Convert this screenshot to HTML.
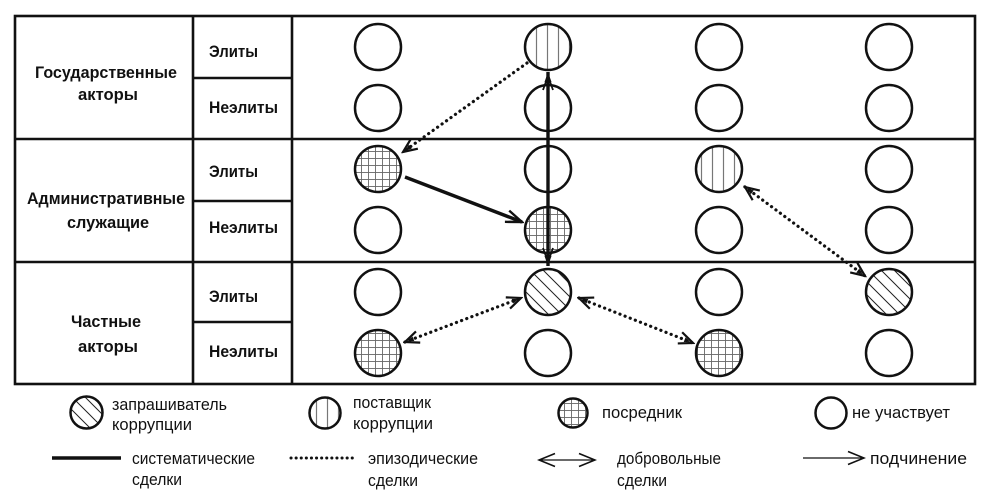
<!DOCTYPE html>
<html><head><meta charset="utf-8"><style>
html,body{margin:0;padding:0;background:#fff;}
svg{display:block;}
.b{font-family:"Liberation Sans Narrow","Liberation Sans","DejaVu Sans",sans-serif;font-weight:bold;font-size:17px;fill:#111;}
.r{font-family:"Liberation Sans Narrow","Liberation Sans","DejaVu Sans",sans-serif;font-size:16.5px;fill:#111;}
</style></head><body>
<svg width="1000" height="501" viewBox="0 0 1000 501" xmlns="http://www.w3.org/2000/svg">
<defs>
<pattern id="pv" patternUnits="userSpaceOnUse" width="11" height="10" x="3" y="0">
<line x1="5.5" y1="0" x2="5.5" y2="10" stroke="#777" stroke-width="1.2"/>
</pattern>
<pattern id="pg" patternUnits="userSpaceOnUse" width="7" height="7" x="1" y="1">
<line x1="3.5" y1="0" x2="3.5" y2="7" stroke="#666" stroke-width="0.9"/>
<line x1="0" y1="3.5" x2="7" y2="3.5" stroke="#666" stroke-width="0.9"/>
</pattern>
<pattern id="pd" patternUnits="userSpaceOnUse" width="13" height="13" x="0" y="0">
<path d="M-2,-2 L15,15 M-8.5,4.5 L4.5,17.5 M4.5,-8.5 L17.5,4.5" stroke="#222" stroke-width="1" fill="none"/>
</pattern>
<marker id="mo" markerUnits="userSpaceOnUse" viewBox="-16 -8 18 16" refX="0" refY="0" markerWidth="18" markerHeight="16" orient="auto-start-reverse">
<path d="M-14,-6 L0,0 L-14,6" fill="none" stroke="#111" stroke-width="2.2"/>
<path d="M-9,-2.5 L-3,0 L-9,2.5 Z" fill="#111"/>
</marker>
<marker id="ms" markerUnits="userSpaceOnUse" viewBox="-18 -9 20 18" refX="0" refY="0" markerWidth="20" markerHeight="18" orient="auto-start-reverse">
<path d="M-16,-6 L0,0 L-16,6" fill="none" stroke="#111" stroke-width="2.4"/>
</marker>
<marker id="mv" markerUnits="userSpaceOnUse" viewBox="-20 -9 22 18" refX="0" refY="0" markerWidth="22" markerHeight="18" orient="auto-start-reverse">
<path d="M-10,-3.5 L0,0 L-10,3.5 Z" fill="#111"/>
<path d="M-18,-5 L-4,0 L-18,5" fill="none" stroke="#111" stroke-width="1.8"/>
</marker>
<marker id="mt" markerUnits="userSpaceOnUse" viewBox="-18 -9 20 18" refX="0" refY="0" markerWidth="20" markerHeight="18" orient="auto-start-reverse">
<path d="M-16,-6.5 L0,0 L-16,6.5" fill="none" stroke="#111" stroke-width="1.6"/>
</marker>
</defs>

<!-- table frame -->
<g stroke="#111" stroke-width="2.6" fill="none">
<rect x="15" y="16" width="960" height="368"/>
<line x1="193" y1="16" x2="193" y2="384"/>
<line x1="292" y1="16" x2="292" y2="384"/>
<line x1="15" y1="139" x2="975" y2="139"/>
<line x1="15" y1="262" x2="975" y2="262"/>
<line x1="193" y1="78" x2="292" y2="78"/>
<line x1="193" y1="201" x2="292" y2="201"/>
<line x1="193" y1="322" x2="292" y2="322"/>
</g>

<!-- labels -->
<text class="b" x="106" y="78" text-anchor="middle" textLength="142" lengthAdjust="spacingAndGlyphs">Государственные</text>
<text class="b" x="108" y="100" text-anchor="middle" textLength="60" lengthAdjust="spacingAndGlyphs">акторы</text>
<text class="b" x="106" y="204" text-anchor="middle" textLength="158" lengthAdjust="spacingAndGlyphs">Административные</text>
<text class="b" x="108" y="228" text-anchor="middle" textLength="82" lengthAdjust="spacingAndGlyphs">служащие</text>
<text class="b" x="106" y="327" text-anchor="middle" textLength="70" lengthAdjust="spacingAndGlyphs">Частные</text>
<text class="b" x="108" y="352" text-anchor="middle" textLength="60" lengthAdjust="spacingAndGlyphs">акторы</text>

<text class="b" x="209" y="57" textLength="49" lengthAdjust="spacingAndGlyphs">Элиты</text>
<text class="b" x="209" y="113" textLength="69" lengthAdjust="spacingAndGlyphs">Неэлиты</text>
<text class="b" x="209" y="177" textLength="49" lengthAdjust="spacingAndGlyphs">Элиты</text>
<text class="b" x="209" y="233" textLength="69" lengthAdjust="spacingAndGlyphs">Неэлиты</text>
<text class="b" x="209" y="302" textLength="49" lengthAdjust="spacingAndGlyphs">Элиты</text>
<text class="b" x="209" y="357" textLength="69" lengthAdjust="spacingAndGlyphs">Неэлиты</text>

<!-- circles -->
<g stroke="#111" stroke-width="2.5">
<circle cx="378" cy="47" r="23" fill="#fff"/>
<circle cx="548" cy="47" r="23" fill="url(#pv)"/>
<circle cx="719" cy="47" r="23" fill="#fff"/>
<circle cx="889" cy="47" r="23" fill="#fff"/>

<circle cx="378" cy="108" r="23" fill="#fff"/>
<circle cx="548" cy="108" r="23" fill="#fff"/>
<circle cx="719" cy="108" r="23" fill="#fff"/>
<circle cx="889" cy="108" r="23" fill="#fff"/>

<circle cx="378" cy="169" r="23" fill="url(#pg)"/>
<circle cx="548" cy="169" r="23" fill="#fff"/>
<circle cx="719" cy="169" r="23" fill="url(#pv)"/>
<circle cx="889" cy="169" r="23" fill="#fff"/>

<circle cx="378" cy="230" r="23" fill="#fff"/>
<circle cx="548" cy="230" r="23" fill="url(#pg)"/>
<circle cx="719" cy="230" r="23" fill="#fff"/>
<circle cx="889" cy="230" r="23" fill="#fff"/>

<circle cx="378" cy="292" r="23" fill="#fff"/>
<circle cx="548" cy="292" r="23" fill="url(#pd)"/>
<circle cx="719" cy="292" r="23" fill="#fff"/>
<circle cx="889" cy="292" r="23" fill="url(#pd)"/>

<circle cx="378" cy="353" r="23" fill="url(#pg)"/>
<circle cx="548" cy="353" r="23" fill="#fff"/>
<circle cx="719" cy="353" r="23" fill="url(#pg)"/>
<circle cx="889" cy="353" r="23" fill="#fff"/>
</g>

<!-- connectors -->
<g fill="none" stroke="#111">
<line x1="548" y1="72" x2="548" y2="266" stroke-width="3.4" marker-start="url(#mv)" marker-end="url(#mv)"/>
<line x1="405" y1="177" x2="522" y2="222" stroke-width="3.4" marker-end="url(#ms)"/>
<line x1="527" y1="63" x2="403" y2="152" stroke-width="3.2" stroke-linecap="round" stroke-dasharray="0.1 5.4" marker-end="url(#mo)"/>
<line x1="405" y1="342" x2="521" y2="298" stroke-width="3.2" stroke-linecap="round" stroke-dasharray="0.1 5.4" marker-start="url(#mo)" marker-end="url(#mo)"/>
<line x1="579" y1="298" x2="693" y2="343" stroke-width="3.2" stroke-linecap="round" stroke-dasharray="0.1 5.4" marker-start="url(#mo)" marker-end="url(#mo)"/>
<line x1="745" y1="187" x2="865" y2="276" stroke-width="3.2" stroke-linecap="round" stroke-dasharray="0.1 5.4" marker-start="url(#mo)" marker-end="url(#mo)"/>
</g>

<!-- legend -->
<g stroke="#111" stroke-width="2.5">
<circle cx="86.5" cy="412.5" r="16" fill="url(#pd)"/>
<circle cx="325" cy="413" r="15.5" fill="url(#pv)"/>
<circle cx="573" cy="413" r="14.5" fill="url(#pg)"/>
<circle cx="831" cy="413" r="15.5" fill="#fff"/>
</g>
<text class="r" x="112" y="410" textLength="115" lengthAdjust="spacingAndGlyphs">запрашиватель</text>
<text class="r" x="112" y="430" textLength="80" lengthAdjust="spacingAndGlyphs">коррупции</text>
<text class="r" x="353" y="408" textLength="78" lengthAdjust="spacingAndGlyphs">поставщик</text>
<text class="r" x="353" y="429" textLength="80" lengthAdjust="spacingAndGlyphs">коррупции</text>
<text class="r" x="602" y="418" textLength="80" lengthAdjust="spacingAndGlyphs">посредник</text>
<text class="r" x="852" y="418" textLength="98" lengthAdjust="spacingAndGlyphs">не участвует</text>

<g fill="none" stroke="#111">
<line x1="52" y1="458" x2="121" y2="458" stroke-width="3.4"/>
<line x1="291" y1="458" x2="357" y2="458" stroke-width="3" stroke-linecap="round" stroke-dasharray="0.1 5"/>
<line x1="539" y1="460" x2="595" y2="460" stroke-width="1.3" marker-start="url(#mt)" marker-end="url(#mt)"/>
<line x1="803" y1="458" x2="864" y2="458" stroke-width="1.3" marker-end="url(#mt)"/>
</g>
<text class="r" x="132" y="464" textLength="123" lengthAdjust="spacingAndGlyphs">систематические</text>
<text class="r" x="132" y="485" textLength="50" lengthAdjust="spacingAndGlyphs">сделки</text>
<text class="r" x="368" y="464" textLength="110" lengthAdjust="spacingAndGlyphs">эпизодические</text>
<text class="r" x="368" y="486" textLength="50" lengthAdjust="spacingAndGlyphs">сделки</text>
<text class="r" x="617" y="464" textLength="104" lengthAdjust="spacingAndGlyphs">добровольные</text>
<text class="r" x="617" y="486" textLength="50" lengthAdjust="spacingAndGlyphs">сделки</text>
<text class="r" x="870" y="464" textLength="97" lengthAdjust="spacingAndGlyphs">подчинение</text>
</svg>
</body></html>
